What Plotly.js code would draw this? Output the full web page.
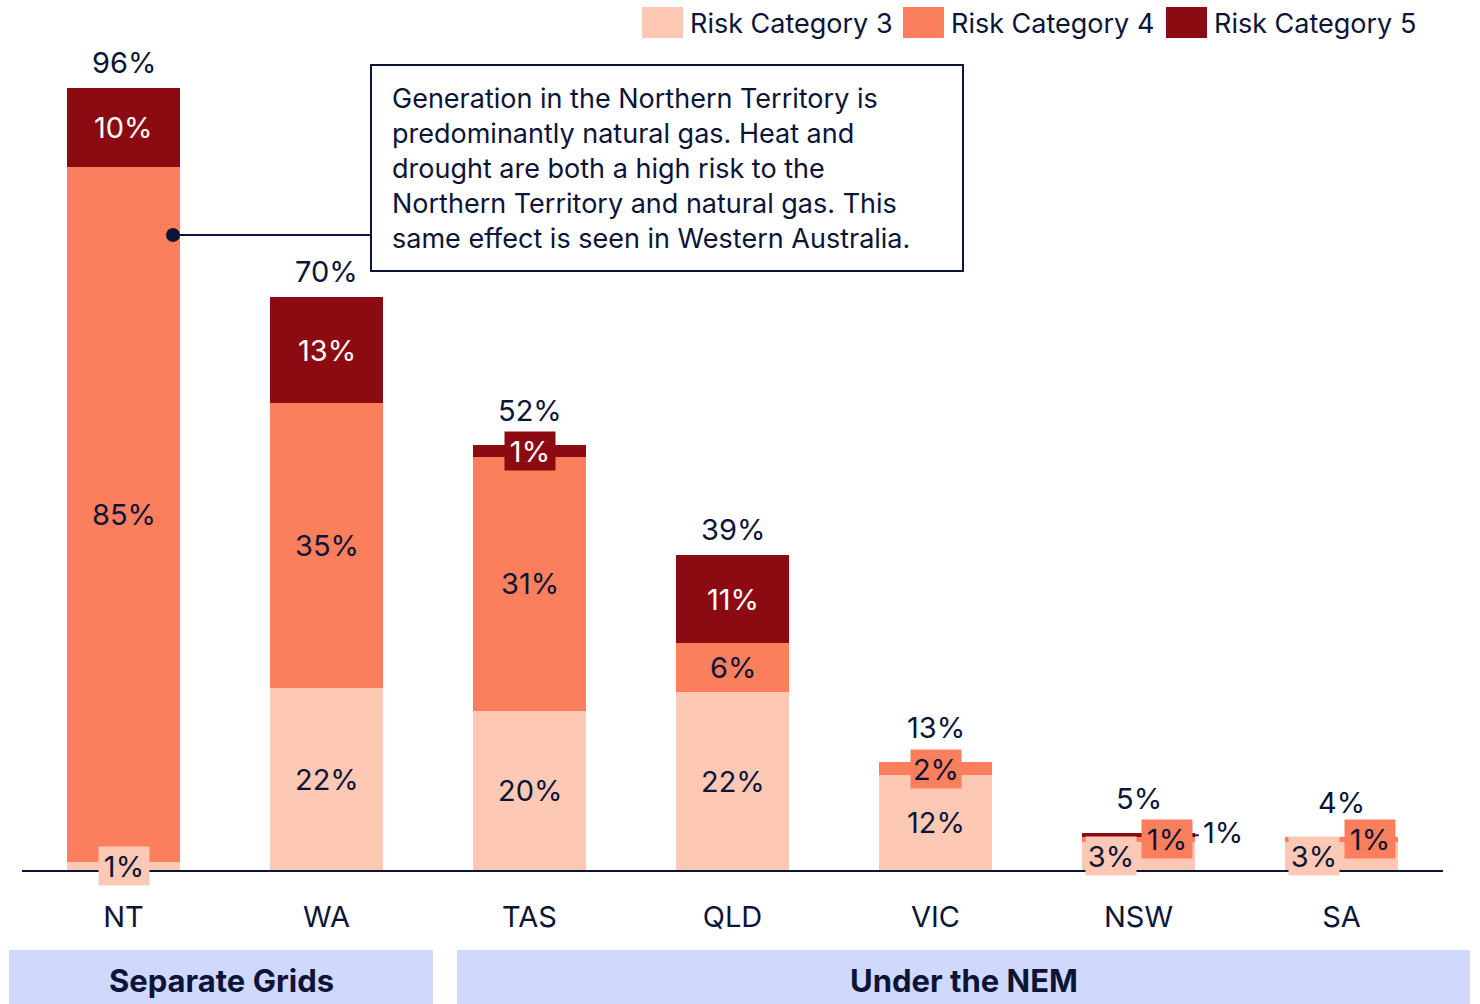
<!DOCTYPE html>
<html>
<head>
<meta charset="utf-8">
<script src="https://cdn.plot.ly/plotly-3.0.1.min.js"></script>
<style>
  html, body { margin: 0; padding: 0; background: #ffffff; }
  #chart { width: 1480px; height: 1004px; }
</style>
</head>
<body>
<div id="chart"></div>
<script>
// data (share of generation, %)
const categories = ['NT', 'WA', 'TAS', 'QLD', 'VIC', 'NSW', 'SA'];
const risk3 = [1.0, 22.3, 19.5, 21.8, 11.6, 3.49, 3.49];
const risk4 = [85.2, 35.0, 31.2, 6.0, 1.6, 0.51, 0.51];
const risk5 = [9.7, 13.0, 1.4, 10.9, 0, 0.51, 0];
const seriesNames = ['Risk Category 3', 'Risk Category 4', 'Risk Category 5'];
const groupNames = ['Separate Grids', 'Under the NEM'];
const calloutText = 'Generation in the Northern Territory is<br>predominantly natural gas. Heat and<br>drought are both a high risk to the<br>Northern Territory and natural gas. This<br>same effect is seen in Western Australia.';

const colors = ['#fdc9b4', '#fb7f5d', '#8c0b13'];
const navy = '#0c1437';
const FONT = 'Inter, "Noto Sans", sans-serif';

// plot area in page pixels
const L = 22, R = 1443, T = 55, B = 870;
const px = x => (x - L) / (R - L);
const py = y => (B - y) / (B - T);

const series = [risk3, risk4, risk5];
const traces = series.map((vals, i) => ({
  type: 'bar',
  x: categories,
  y: vals,
  name: seriesNames[i],
  marker: { color: colors[i], line: { width: 0 } },
  hoverinfo: 'skip',
  showlegend: false
}));

// label offsets for the crowded small bars (pixels)
const shifts = {
  NSW: [[-28, 0], [28, 0], [70, 0]],
  SA: [[-28, 0], [28, 0], [0, 0]]
};

const annotations = [];
const shapes = [];

categories.forEach((cat, c) => {
  let base = 0;
  let topSmall = false;
  series.forEach((vals, s) => {
    const v = vals[c];
    if (v > 0) {
      const small = v < 4;
      topSmall = small;
      const sh = (shifts[cat] || [])[s] || [0, 0];
      const outside = cat === 'NSW' && s === 2;
      const a = {
        x: cat, y: base + v / 2, xref: 'x', yref: 'y',
        text: Math.round(v) + '%', showarrow: false,
        xshift: sh[0], yshift: sh[1],
        font: { family: FONT, size: 29, color: s === 2 && !outside ? '#ffffff' : navy }
      };
      if (small && !outside) {
        a.bgcolor = colors[s];
        a.width = 46;
        a.height = 34;
        a.borderpad = 2;
      }
      if (outside) {
        a.xanchor = 'left';
        a.xshift = 62;
        a.yshift = 3;
        shapes.push({
          type: 'line', xref: 'x', yref: 'y',
          x0: c + 0.265, x1: c + 0.297, y0: base + v / 2, y1: base + v / 2,
          line: { color: navy, width: 2 }
        });
      }
      annotations.push(a);
    }
    base += v;
  });
  annotations.push({
    x: cat, y: base, xref: 'x', yref: 'y', yanchor: 'bottom', yshift: topSmall ? 15 : 6,
    text: Math.round(base) + '%', showarrow: false,
    font: { family: FONT, size: 29, color: navy }
  });
});

// callout box + leader line
shapes.push({
  type: 'rect', xref: 'paper', yref: 'paper',
  x0: px(371), x1: px(963), y0: py(271), y1: py(65),
  line: { color: navy, width: 2 }, fillcolor: '#ffffff'
});
shapes.push({
  type: 'line', xref: 'paper', yref: 'paper',
  x0: px(173), x1: px(371), y0: py(235), y1: py(235),
  line: { color: navy, width: 2 }
});
shapes.push({
  type: 'circle', xref: 'paper', yref: 'paper',
  x0: px(166), x1: px(180), y0: py(242), y1: py(228),
  line: { color: navy, width: 0 }, fillcolor: navy
});
annotations.push({
  xref: 'paper', yref: 'paper', x: px(390), y: py(168),
  xanchor: 'left', yanchor: 'middle', align: 'left',
  text: calloutText, showarrow: false,
  font: { family: FONT, size: 27, color: navy }
});

// custom legend
const legendX = [642, 903, 1166];
seriesNames.forEach((name, i) => {
  shapes.push({
    type: 'rect', xref: 'paper', yref: 'paper',
    x0: px(legendX[i]), x1: px(legendX[i] + 41), y0: py(38), y1: py(7),
    line: { width: 0 }, fillcolor: colors[i]
  });
  annotations.push({
    xref: 'paper', yref: 'paper', x: px(legendX[i] + 46), y: py(23),
    xanchor: 'left', yanchor: 'middle', text: name, showarrow: false,
    font: { family: FONT, size: 27, color: navy }
  });
});

// group bands under the axis
const bands = [[9, 433], [457, 1470]];
groupNames.forEach((g, i) => {
  shapes.push({
    type: 'rect', xref: 'paper', yref: 'paper',
    x0: px(bands[i][0]), x1: px(bands[i][1]), y0: py(1004), y1: py(950),
    line: { width: 0 }, fillcolor: '#d0d8fb'
  });
  annotations.push({
    xref: 'paper', yref: 'paper', x: px((bands[i][0] + bands[i][1]) / 2), y: py(980),
    xanchor: 'center', yanchor: 'middle', text: '<b>' + g + '</b>', showarrow: false,
    font: { family: FONT, size: 31, color: navy }
  });
});

const layout = {
  width: 1480, height: 1004,
  margin: { l: L, r: 1480 - R, t: T, b: 1004 - B, pad: 0 },
  barmode: 'stack',
  bargap: 0.443,
  paper_bgcolor: '#ffffff',
  plot_bgcolor: '#ffffff',
  showlegend: false,
  xaxis: {
    type: 'category',
    range: [-0.5, 6.5],
    showline: true, linecolor: navy, linewidth: 2,
    showgrid: false, zeroline: false, ticks: '',
    ticklabelstandoff: 20,
    tickfont: { family: FONT, size: 29, color: navy },
    fixedrange: true
  },
  yaxis: {
    range: [0, 100],
    visible: false, showgrid: false, zeroline: false,
    fixedrange: true
  },
  annotations: annotations,
  shapes: shapes
};

Plotly.newPlot('chart', traces, layout, { displayModeBar: false, staticPlot: true });
</script>
</body>
</html>
